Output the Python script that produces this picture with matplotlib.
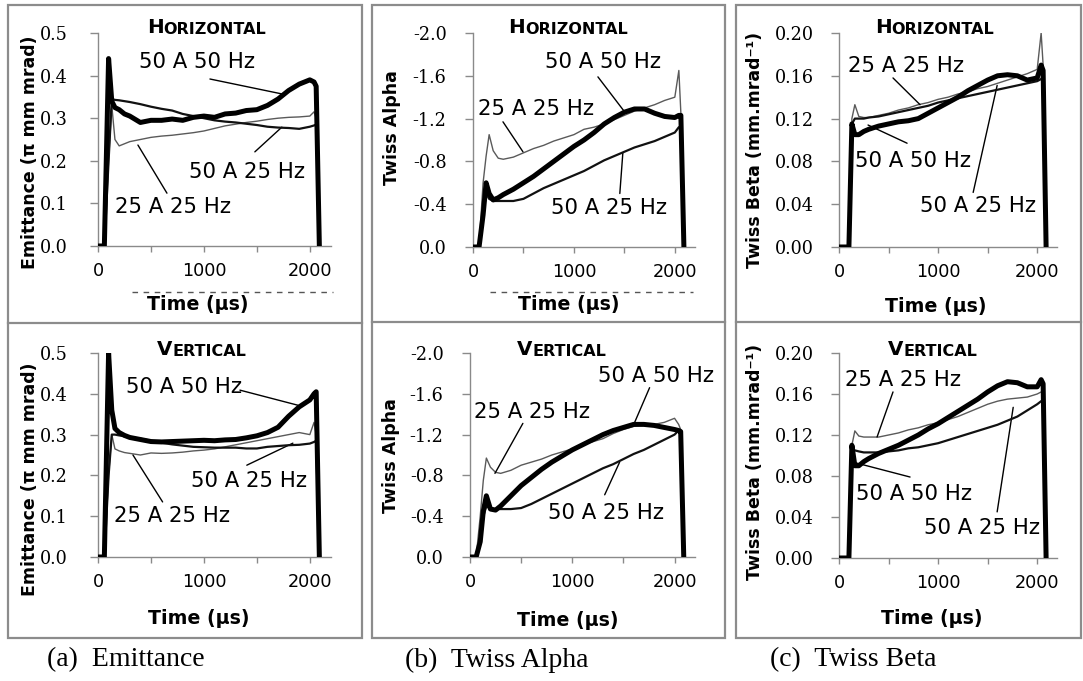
import matplotlib
matplotlib.use("Agg")
import matplotlib.pyplot as plt
from matplotlib.lines import Line2D
from matplotlib.patches import Rectangle
from matplotlib.text import Annotation
from matplotlib.ticker import FixedLocator, FuncFormatter

plt.rcParams['axes.unicode_minus'] = False

# ---------------- data ----------------
time_us = [0, 60, 100, 130, 160, 200, 250, 300, 400, 500, 600, 700, 800, 900, 1000,
           1100, 1200, 1300, 1400, 1500, 1600, 1700, 1800, 1900, 2000, 2040, 2060, 2090]

series_names = ["25 A 25 Hz", "50 A 25 Hz", "50 A 50 Hz"]

emit_h_25a25 = [0, 0, 0.2, 0.33, 0.25, 0.235, 0.24, 0.245, 0.25, 0.255, 0.258, 0.26, 0.263, 0.266, 0.27,
                0.276, 0.282, 0.286, 0.29, 0.293, 0.297, 0.3, 0.302, 0.303, 0.305, 0.315, 0.3, 0]
emit_h_50a25 = [0, 0, 0.2, 0.345, 0.343, 0.342, 0.34, 0.338, 0.333, 0.327, 0.322, 0.318, 0.31, 0.305, 0.3,
                0.295, 0.292, 0.29, 0.287, 0.284, 0.28, 0.278, 0.277, 0.275, 0.28, 0.283, 0.285, 0]
emit_h_50a50 = [0, 0, 0.44, 0.34, 0.325, 0.32, 0.31, 0.305, 0.29, 0.295, 0.295, 0.298, 0.295, 0.302, 0.305,
                0.302, 0.31, 0.312, 0.318, 0.32, 0.33, 0.345, 0.365, 0.38, 0.39, 0.385, 0.375, 0]

emit_v_25a25 = [0, 0, 0.2, 0.3, 0.265, 0.26, 0.256, 0.254, 0.25, 0.255, 0.254, 0.255, 0.257, 0.26, 0.262,
                0.265, 0.27, 0.275, 0.28, 0.285, 0.29, 0.295, 0.3, 0.305, 0.3, 0.33, 0.3, 0]
emit_v_50a25 = [0, 0, 0.2, 0.3, 0.3, 0.298, 0.296, 0.294, 0.29, 0.285, 0.28, 0.276, 0.273, 0.27, 0.269,
                0.268, 0.268, 0.268, 0.266, 0.266, 0.27, 0.272, 0.274, 0.275, 0.278, 0.282, 0.285, 0]
emit_v_50a50 = [0, 0, 0.5, 0.36, 0.315, 0.305, 0.298, 0.293, 0.288, 0.283, 0.282, 0.283, 0.284, 0.285, 0.286,
                0.285, 0.287, 0.288, 0.292, 0.297, 0.305, 0.318, 0.345, 0.368, 0.385, 0.4, 0.405, 0]

alpha_h_25a25 = [0, 0, -0.6, -0.85, -1.05, -0.9, -0.83, -0.82, -0.84, -0.88, -0.92, -0.95, -0.99, -1.02, -1.05,
                 -1.1, -1.12, -1.15, -1.19, -1.23, -1.27, -1.3, -1.33, -1.37, -1.4, -1.65, -1.25, 0]
alpha_h_50a25 = [0, 0, -0.3, -0.5, -0.45, -0.43, -0.43, -0.43, -0.43, -0.45, -0.5, -0.55, -0.59, -0.63, -0.67,
                 -0.71, -0.76, -0.81, -0.85, -0.89, -0.93, -0.96, -0.99, -1.03, -1.07, -1.12, -1.1, 0]
alpha_h_50a50 = [0, 0, -0.3, -0.6, -0.5, -0.44, -0.46, -0.49, -0.54, -0.6, -0.66, -0.73, -0.8, -0.87, -0.94,
                 -1.0, -1.07, -1.15, -1.21, -1.26, -1.29, -1.29, -1.25, -1.22, -1.21, -1.23, -1.23, 0]

alpha_v_25a25 = [0, 0, -0.4, -0.75, -0.97, -0.88, -0.83, -0.82, -0.85, -0.9, -0.93, -0.96, -1.0, -1.03, -1.06,
                 -1.1, -1.13, -1.16, -1.21, -1.25, -1.28, -1.3, -1.3, -1.32, -1.36, -1.3, -1.25, 0]
alpha_v_50a25 = [0, 0, -0.15, -0.4, -0.5, -0.47, -0.47, -0.47, -0.47, -0.48, -0.52, -0.57, -0.62, -0.67, -0.72,
                 -0.77, -0.82, -0.87, -0.91, -0.96, -1.01, -1.05, -1.1, -1.15, -1.2, -1.24, -1.22, 0]
alpha_v_50a50 = [0, 0, -0.15, -0.45, -0.6, -0.47, -0.46, -0.5, -0.6, -0.7, -0.78, -0.86, -0.93, -0.99, -1.05,
                 -1.1, -1.15, -1.2, -1.24, -1.27, -1.3, -1.3, -1.29, -1.27, -1.25, -1.24, -1.23, 0]

beta_h_25a25 = [0, 0, 0, 0.12, 0.133, 0.122, 0.121, 0.121, 0.123, 0.125, 0.128, 0.13, 0.133, 0.135, 0.138,
                0.14, 0.143, 0.145, 0.148, 0.15, 0.153, 0.156, 0.159, 0.162, 0.166, 0.2, 0.17, 0]
beta_h_50a25 = [0, 0, 0, 0.115, 0.12, 0.12, 0.12, 0.121, 0.122, 0.124, 0.126, 0.128, 0.13, 0.132, 0.135,
                0.137, 0.139, 0.141, 0.143, 0.145, 0.147, 0.149, 0.151, 0.153, 0.155, 0.157, 0.16, 0]
beta_h_50a50 = [0, 0, 0, 0.115, 0.105, 0.105, 0.108, 0.11, 0.113, 0.115, 0.117, 0.118, 0.12, 0.125, 0.13,
                0.135, 0.14, 0.146, 0.151, 0.156, 0.16, 0.161, 0.16, 0.156, 0.158, 0.17, 0.165, 0]

beta_v_25a25 = [0, 0, 0, 0.11, 0.124, 0.119, 0.118, 0.118, 0.118, 0.12, 0.122, 0.125, 0.127, 0.13, 0.132,
                0.135, 0.138, 0.142, 0.146, 0.15, 0.153, 0.155, 0.156, 0.157, 0.16, 0.162, 0.16, 0]
beta_v_50a25 = [0, 0, 0, 0.105, 0.105, 0.104, 0.103, 0.103, 0.103, 0.104, 0.105, 0.107, 0.108, 0.11, 0.112,
                0.115, 0.118, 0.121, 0.124, 0.127, 0.13, 0.134, 0.138, 0.144, 0.15, 0.153, 0.153, 0]
beta_v_50a50 = [0, 0, 0, 0.11, 0.09, 0.09, 0.094, 0.097, 0.102, 0.106, 0.11, 0.115, 0.12, 0.126, 0.131,
                0.137, 0.143, 0.149, 0.155, 0.162, 0.168, 0.172, 0.171, 0.167, 0.167, 0.174, 0.17, 0]

emit_ticks = [0.0, 0.1, 0.2, 0.3, 0.4, 0.5]
alpha_ticks = [0.0, -0.4, -0.8, -1.2, -1.6, -2.0]
beta_ticks = [0.00, 0.04, 0.08, 0.12, 0.16, 0.20]
time_ticks = [0, 500, 1000, 1500, 2000]
time_labels = ["0", "", "1000", "", "2000"]

captions = ["(a)  Emittance", "(b)  Twiss Alpha", "(c)  Twiss Beta"]

# ---------------- layout ----------------
W, H = 1083, 681
fig = plt.figure(figsize=(W / 100, H / 100), dpi=100)
SANS = ['DejaVu Sans']
SERIF = ['DejaVu Serif']
AX_GRAY = '#8a8a8a'

def fx(px):
    return px / W

def fy(py):
    return 1 - py / H

def make_axes(l, r, t, b):
    return fig.add_axes([fx(l), fy(b), (r - l) / W, (b - t) / H])

def style(ax, yticks, ylim, fmt, ypad):
    for s in ['top', 'right']:
        ax.spines[s].set_visible(False)
    for s in ['left', 'bottom']:
        ax.spines[s].set_color(AX_GRAY)
        ax.spines[s].set_linewidth(1.0)
    ax.set_xlim(0, 2200)
    ax.set_ylim(*ylim)
    ax.xaxis.set_major_locator(FixedLocator(time_ticks))
    ax.set_xticklabels(time_labels)
    ax.yaxis.set_major_locator(FixedLocator(yticks))
    ax.yaxis.set_major_formatter(FuncFormatter(lambda v, p: fmt.format(v)))
    ax.tick_params(axis='y', direction='out', length=6, width=1, color=AX_GRAY, pad=ypad)
    ax.tick_params(axis='x', direction='out', length=4, width=1, color=AX_GRAY, pad=7.5)
    for lab in ax.get_yticklabels():
        lab.set_family(SERIF)
        lab.set_fontsize(12.7)
    for lab in ax.get_xticklabels():
        lab.set_family(SANS)
        lab.set_fontsize(12.7)
    ax.patch.set_alpha(0)

def draw(ax, thin, med, thick):
    ax.plot(time_us, thin, color='#5a5a5a', lw=1.0, zorder=3)
    ax.plot(time_us, med, color='#111111', lw=1.6, zorder=4)
    ax.plot(time_us, thick, color='black', lw=3.6, zorder=5, solid_joinstyle='round')

def note(ax, text, txy, p_from, p_to):
    ax.annotate('', xy=p_to, xytext=p_from,
                arrowprops=dict(arrowstyle='-', color='black', lw=1.0, shrinkA=0, shrinkB=0),
                annotation_clip=False)
    ax.text(txy[0], txy[1], text, ha='center', va='center', fontsize=15.3,
            family=SANS, clip_on=False, zorder=6)

def smallcaps_title(first, rest, left_px, base_px):
    t1 = fig.text(fx(left_px), fy(base_px), first, fontsize=14.3, fontweight='bold',
                  family=SANS, ha='left', va='baseline')
    a = Annotation(rest, xy=(1, 0), xycoords=t1, fontsize=11.5, fontweight='bold',
                   family=SANS, ha='left', va='bottom')
    fig.add_artist(a)

def ylab(text, cx, cy):
    fig.text(fx(cx), fy(cy), text, rotation=90, ha='center', va='center',
             fontsize=12.5, fontweight='bold', family=SANS)

def xlab(text, cx, cy):
    fig.text(fx(cx), fy(cy), text, ha='center', va='center',
             fontsize=13.7, fontweight='bold', family=SANS)

# panel boxes
for (l, r, mid) in [(8, 362, 323), (372, 725, 322), (736, 1081, 322)]:
    fig.add_artist(Rectangle((fx(l), fy(638)), (r - l) / W, (638 - 5) / H,
                             transform=fig.transFigure, fill=False, ec='#8c8c8c', lw=1.6))
    fig.add_artist(Line2D([fx(l), fx(r)], [fy(mid), fy(mid)], transform=fig.transFigure,
                          color='#8c8c8c', lw=1.6))

# clipped residual tick-label rows
for (a, b) in [(132, 333), (490, 693)]:
    fig.add_artist(Line2D([fx(a), fx(b)], [fy(292), fy(292)], transform=fig.transFigure,
                          color='#555555', lw=1.0, dashes=(4, 4)))

# ---- Emittance ----
ax1 = make_axes(98, 331, 33, 246)
draw(ax1, emit_h_25a25, emit_h_50a25, emit_h_50a50)
style(ax1, emit_ticks, (0, 0.5), "{:.1f}", 16)
note(ax1, series_names[2], (934, 0.432), (1057, 0.392), (1736, 0.357))
note(ax1, series_names[1], (1406, 0.174), (1481, 0.221), (1736, 0.279))
note(ax1, series_names[0], (708, 0.092), (651, 0.124), (377, 0.237))

ax4 = make_axes(98, 331, 353, 557)
draw(ax4, emit_v_25a25, emit_v_50a25, emit_v_50a50)
style(ax4, emit_ticks, (0, 0.5), "{:.1f}", 16)
note(ax4, series_names[2], (811, 0.417), (1340, 0.409), (1887, 0.372))
note(ax4, series_names[1], (1425, 0.186), (1405, 0.225), (1840, 0.279))
note(ax4, series_names[0], (696, 0.100), (610, 0.135), (330, 0.25))

# ---- Twiss Alpha ----
ax2 = make_axes(473, 695, 33, 247)
draw(ax2, alpha_h_25a25, alpha_h_50a25, alpha_h_50a50)
style(ax2, alpha_ticks, (0, -2.0), "{:.1f}", 13)
note(ax2, series_names[0], (624, -1.29), (297, -1.17), (495, -0.89))
note(ax2, series_names[2], (1287, -1.73), (1238, -1.59), (1505, -1.26))
note(ax2, series_names[1], (1347, -0.36), (1455, -0.5), (1485, -0.88))

ax5 = make_axes(470, 695, 353, 557)
draw(ax5, alpha_v_25a25, alpha_v_50a25, alpha_v_50a50)
style(ax5, alpha_ticks, (0, -2.0), "{:.1f}", 13)
note(ax5, series_names[0], (605, -1.42), (517, -1.31), (244, -0.82))
note(ax5, series_names[2], (1815, -1.77), (1756, -1.66), (1610, -1.32))
note(ax5, series_names[1], (1327, -0.43), (1317, -0.61), (1463, -0.93))

# ---- Twiss Beta ----
ax3 = make_axes(839, 1057, 33, 247)
draw(ax3, beta_h_25a25, beta_h_50a25, beta_h_50a50)
style(ax3, beta_ticks, (0, 0.2), "{:.2f}", 12)
note(ax3, series_names[0], (677, 0.169), (545, 0.158), (818, 0.133))
note(ax3, series_names[2], (748, 0.080), (687, 0.097), (293, 0.114))
note(ax3, series_names[1], (1404, 0.038), (1354, 0.051), (1596, 0.151))

ax6 = make_axes(839, 1057, 353, 558)
draw(ax6, beta_v_25a25, beta_v_50a25, beta_v_50a50)
style(ax6, beta_ticks, (0, 0.2), "{:.2f}", 12)
note(ax6, series_names[0], (646, 0.174), (545, 0.162), (384, 0.118))
note(ax6, series_names[2], (758, 0.062), (717, 0.079), (162, 0.093))
note(ax6, series_names[1], (1444, 0.029), (1596, 0.045), (1758, 0.147))

# titles
for (l, b) in [(147, 33), (508, 33), (875, 33)]:
    smallcaps_title("H", "ORIZONTAL", l, b)
for (l, b) in [(157, 355), (517, 355), (888, 355)]:
    smallcaps_title("V", "ERTICAL", l, b)

# axis labels
ylab("Emittance (π mm mrad)", 30, 152)
ylab("Emittance (π mm mrad)", 30, 479)
ylab("Twiss Alpha", 392, 128)
ylab("Twiss Alpha", 391, 456)
ylab("Twiss Beta (mm.mrad⁻¹)", 755, 150)
ylab("Twiss Beta (mm.mrad⁻¹)", 755, 462)

for (cx, cy) in [(198, 304), (569, 304), (936, 307), (199, 618), (568, 620), (932, 619)]:
    xlab("Time (μs)", cx, cy)

# captions
for txt, l in zip(captions, [47, 405, 770]):
    fig.text(fx(l), fy(660), txt, ha='left', va='center', fontsize=20,
             family=['Liberation Serif', 'DejaVu Serif'])

fig.savefig("out.png", dpi=100)
